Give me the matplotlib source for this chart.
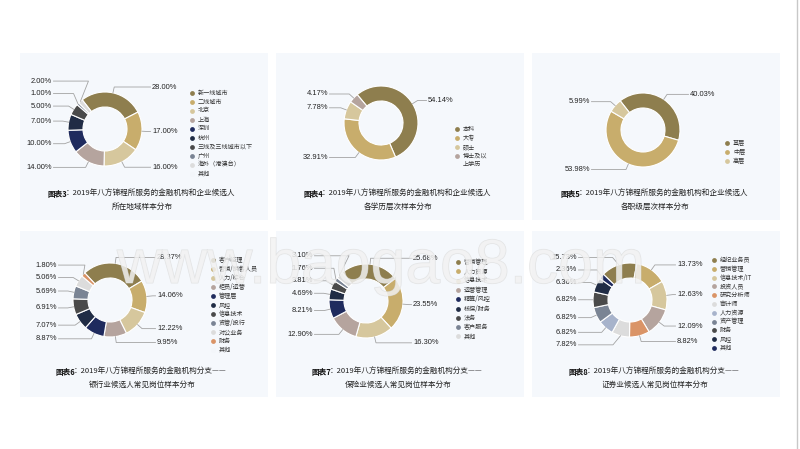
import numpy as np
import matplotlib
matplotlib.use("Agg")
import matplotlib.pyplot as plt
import matplotlib.patheffects as pe

plt.rcParams['font.family'] = ['Liberation Sans', 'Noto Sans CJK SC', 'DejaVu Sans']

W, H = 800, 449

# ---- data ----
region_labels = ["新一线城市", "二线城市", "北京", "上海", "深圳", "杭州",
                 "三线及三线城市以下", "广州", "海外（港澳台）", "其他"]
region_share = [28.00, 17.00, 16.00, 14.00, 10.00, 7.00, 5.00, 1.00, 2.00]

edu_labels = ["本科", "大专", "硕士", "博士及以\n上学历"]
edu_share = [54.14, 32.91, 7.78, 4.17]

level_labels = ["基层", "中层", "高层"]
level_share = [40.03, 53.98, 5.99]

bank_labels = ["客户经理", "营销/销售人员", "人力/综合", "柜员/运营", "管理层", "风控",
               "信息技术", "资管/投行", "对公业务", "财务", "其他"]
bank_share = [28.37, 14.06, 12.22, 9.95, 8.87, 7.07, 6.91, 5.69, 5.06, 1.80]

ins_labels = ["营销管理", "人力资源", "信息技术", "运营管理", "精算/风控", "核保/财务",
              "法务", "客户服务", "其他"]
ins_share = [25.68, 23.55, 16.30, 12.90, 8.21, 4.69, 3.81, 1.76, 3.10]

sec_labels = ["经纪业务员", "营销管理", "信息技术/IT", "投资人员", "研究分析师", "审计师",
              "人力资源", "资产管理", "财务", "风控", "其他"]
sec_share = [15.73, 13.73, 12.63, 12.09, 8.82, 7.82, 6.82, 6.82, 6.82, 6.36, 2.36]

captions = [
    ("图表3", "：2019年八方锦程所服务的金融机构和企业候选人", "所在地域样本分布"),
    ("图表4", "：2019年八方锦程所服务的金融机构和企业候选人", "各学历层次样本分布"),
    ("图表5", "：2019年八方锦程所服务的金融机构和企业候选人", "各职级层次样本分布"),
    ("图表6", "：2019年八方锦程所服务的金融机构分支——", "银行业候选人常见岗位样本分布"),
    ("图表7", "：2019年八方锦程所服务的金融机构分支——", "保险业候选人常见岗位样本分布"),
    ("图表8", "：2019年八方锦程所服务的金融机构分支——", "证券业候选人常见岗位样本分布"),
]

# ---- styles ----
OLIVE, GOLD, TAN, MAUVE = "#8E7E4E", "#C8AD6C", "#D6C79D", "#B5A49E"
NAVY, DNAVY, DGRAY, GBLUE = "#1F2B5E", "#202C45", "#4A4A4A", "#7A8494"
LGRAY, ORANGE, LBLUE, NONE = "#DCDCDC", "#DA9467", "#A7B3CB", "#F3F6FA"

pal_region = [OLIVE, GOLD, TAN, MAUVE, NAVY, DNAVY, DGRAY, GBLUE, LGRAY, NONE]
pal_edu = [OLIVE, GOLD, TAN, MAUVE]
pal_level = [OLIVE, GOLD, TAN]
pal_bank = [OLIVE, GOLD, TAN, MAUVE, NAVY, DNAVY, DGRAY, GBLUE, LGRAY, ORANGE, NONE]
pal_ins = [OLIVE, GOLD, TAN, MAUVE, NAVY, DNAVY, DGRAY, GBLUE, LGRAY]
pal_sec = [OLIVE, GOLD, TAN, MAUVE, ORANGE, LGRAY, LBLUE, GBLUE, DGRAY, DNAVY, NAVY]

PANEL_BG = "#F5F8FC"
R_OUT, RING = 37, 15
L1, GAP = 6, 12.5
LX_R, LX_L = 47, 53

fig = plt.figure(figsize=(W / 100, H / 100), dpi=100)
fig.patch.set_facecolor("white")
ax = fig.add_axes([0, 0, 1, 1])


def Y(y):
    return H - y


def donut(values, colors, cx, cy, start):
    ax.pie(values, colors=colors[:len(values)], center=(cx, Y(cy)), radius=R_OUT,
           startangle=start, counterclock=False,
           wedgeprops=dict(width=RING, edgecolor="white", linewidth=0.8))

    total = float(sum(values))
    R = R_OUT + L1
    items = []
    cum = 0.0
    for v in values:
        mid = np.deg2rad(start - 360.0 * (cum + v / 2) / total)
        cum += v
        c, s = np.cos(mid), np.sin(mid)
        items.append(dict(v=v, p0=(cx + R_OUT * c, cy - R_OUT * s),
                          p1=(cx + R * c, cy - R * s), y=cy - R * s, y0=cy - R * s,
                          side=1 if c >= 0 else -1))

    # push crowded labels apart, away from the horizontal middle
    for side in (1, -1):
        grp = [it for it in items if it["side"] == side]
        upper = sorted([it for it in grp if it["y"] < cy], key=lambda it: -it["y"])
        lower = sorted([it for it in grp if it["y"] >= cy], key=lambda it: it["y"])
        for k in range(1, len(upper)):
            if upper[k - 1]["y"] - upper[k]["y"] < GAP:
                upper[k]["y"] = upper[k - 1]["y"] - GAP
        for k in range(1, len(lower)):
            if lower[k]["y"] - lower[k - 1]["y"] < GAP:
                lower[k]["y"] = lower[k - 1]["y"] + GAP
        for half in (upper, lower):
            if not half:
                continue
            rB = max(R, max(abs(it["y"] - cy) for it in half) + 4)
            for it in half:
                if abs(it["y"] - it["y0"]) > 0.5:
                    dy = it["y"] - cy
                    dx = R * np.sqrt(max(0.05, 1 - (dy / rB) ** 2))
                    it["p1"] = (cx + side * dx, it["y"])

    for it in items:
        side = it["side"]
        lx = cx + side * (LX_R if side > 0 else LX_L)
        xs = [it["p0"][0], it["p1"][0], lx - side * 1.5]
        ys = [it["p0"][1], it["y"], it["y"]]
        ax.plot(xs, [Y(v) for v in ys], color="#A3A3A3", lw=0.6, zorder=3)
        ax.text(lx, Y(it["y"]), f"{it['v']:.2f}%", fontsize=5.4, color="#222222",
                ha="left" if side > 0 else "right", va="center", zorder=4)


def legend(labels, colors, x, y0, step=9.0):
    y = y0
    for lab, col in zip(labels, colors):
        ax.scatter([x], [Y(y)], s=12, color=col, linewidths=0, zorder=4)
        for k, line in enumerate(lab.split("\n")):
            ax.text(x + 6, Y(y + k * 8), line, fontsize=4.4, color="#333333",
                    ha="left", va="center", family=["Noto Sans CJK SC", "DejaVu Sans"])
        y += step + 8 * (lab.count("\n"))


def caption(cx, y, cap):
    prefix, rest, line2 = cap
    fam = ["Noto Sans CJK SC", "DejaVu Sans"]
    t1 = ax.text(0, Y(y), prefix, fontsize=5.5, fontweight="bold", color="#111111",
                 ha="left", va="center", family=fam)
    t2 = ax.text(0, Y(y), rest, fontsize=5.5, color="#222222", ha="left", va="center",
                 family=fam)
    r = fig.canvas.get_renderer()
    w1 = t1.get_window_extent(r).width
    w2 = t2.get_window_extent(r).width
    x0 = cx - (w1 + w2) / 2
    t1.set_x(x0)
    t2.set_x(x0 + w1 - 1.5)
    ax.text(cx, Y(y + 13), line2, fontsize=5.5, color="#222222", ha="center",
            va="center", family=fam)


# panels
cols = [(20, 268), (276, 524), (532, 780)]
rows = [(53, 220), (231, 397)]
for (y0, y1) in rows:
    for (x0, x1) in cols:
        ax.add_patch(plt.Rectangle((x0, Y(y1)), x1 - x0, y1 - y0, facecolor=PANEL_BG,
                                   edgecolor="none", zorder=0))

donut(region_share, pal_region, 105, 129, 128)
legend(region_labels, pal_region, 192, 92.5)
caption(142, 194, captions[0])

donut(edu_share, pal_edu, 381, 123, 130)
legend(edu_labels, pal_edu, 457, 129)
caption(398, 194, captions[1])

donut(level_share, pal_level, 643, 130, 128)
legend(level_labels, pal_level, 727, 143)
caption(655, 194, captions[2])

donut(bank_share, pal_bank, 110, 300, 133)
legend(bank_labels, pal_bank, 213, 260)
caption(142, 372, captions[3])

donut(ins_share, pal_ins, 366, 301, 130)
legend(ins_labels, pal_ins, 458, 262, step=9.3)
caption(398, 372, captions[4])

donut(sec_share, pal_sec, 630, 300, 136)
legend(sec_labels, pal_sec, 714, 260, step=8.8)
caption(655, 372, captions[5])

# watermark
ax.text(117, Y(283), "www.baogao8.com", fontsize=45, color="#F2F2F2", alpha=0.6,
        ha="left", va="baseline", zorder=10, family=["Liberation Sans"],
        path_effects=[pe.withStroke(linewidth=0.7, foreground="#D6D6D6")])

# slide edge
ax.plot([796.5, 796.5], [0, H], color="#C8C8C8", lw=1.0, zorder=1)

ax.set_xlim(0, W)
ax.set_ylim(0, H)
ax.set_aspect("auto")
ax.axis("off")

fig.savefig("out.png", dpi=100, facecolor="white")
